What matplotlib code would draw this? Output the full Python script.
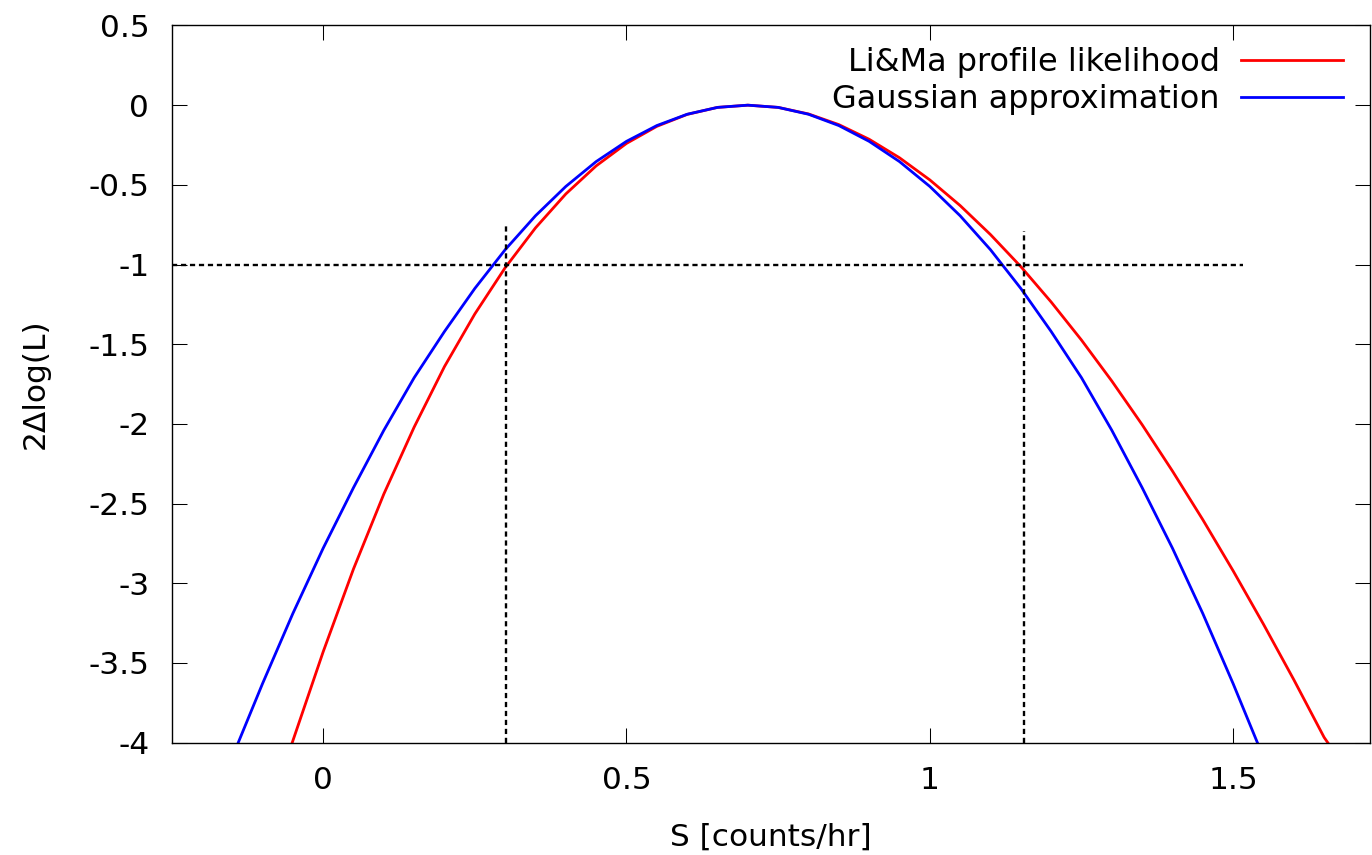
import matplotlib
matplotlib.use("Agg")
import matplotlib.pyplot as plt

plt.rcParams['font.family'] = ['DejaVu Sans']
plt.rcParams['axes.unicode_minus'] = False

# Li&Ma profile likelihood
s_lima = [-0.051, 0.00, 0.05, 0.10, 0.15, 0.20, 0.25, 0.30, 0.35, 0.40, 0.45,
          0.50, 0.55, 0.60, 0.65, 0.70, 0.75, 0.80, 0.85, 0.90, 0.95, 1.00,
          1.05, 1.10, 1.15, 1.20, 1.25, 1.30, 1.35, 1.40, 1.45, 1.50, 1.55,
          1.60, 1.65, 1.656]
l_lima = [-4.00, -3.43, -2.91, -2.44, -2.02, -1.64, -1.31, -1.02, -0.77, -0.557, -0.381,
          -0.240, -0.133, -0.058, -0.014, 0.0, -0.014, -0.055, -0.122, -0.214, -0.330, -0.469,
          -0.630, -0.812, -1.013, -1.235, -1.474, -1.731, -2.005, -2.296, -2.601, -2.922, -3.257,
          -3.605, -3.967, -4.00]

# Gaussian approximation
s_gaus = [-0.14, -0.10, -0.05, 0.00, 0.05, 0.10, 0.15, 0.20, 0.25, 0.30, 0.35,
          0.40, 0.45, 0.50, 0.55, 0.60, 0.65, 0.70, 0.75, 0.80, 0.85, 0.90,
          0.95, 1.00, 1.05, 1.10, 1.15, 1.20, 1.25, 1.30, 1.35, 1.40, 1.45,
          1.50, 1.54]
l_gaus = [-4.00, -3.63, -3.19, -2.78, -2.40, -2.04, -1.71, -1.42, -1.15, -0.907, -0.694,
          -0.510, -0.354, -0.227, -0.128, -0.057, -0.014, 0.0, -0.014, -0.057, -0.128, -0.227,
          -0.354, -0.510, -0.694, -0.907, -1.15, -1.42, -1.71, -2.04, -2.40, -2.78, -3.19,
          -3.63, -4.00]

# 1 sigma guide lines
hline_y = -1.0
hline_x = [-0.25, 1.517]
vline_lo = [0.301, -4.0, -0.75]
vline_hi = [1.155, -4.0, -0.79]

xticks = [0, 0.5, 1, 1.5]
xticklabels = ["0", "0.5", "1", "1.5"]
yticks = [0.5, 0, -0.5, -1, -1.5, -2, -2.5, -3, -3.5, -4]
yticklabels = ["0.5", "0", "-0.5", "-1", "-1.5", "-2", "-2.5", "-3", "-3.5", "-4"]

fs = 22.5

fig = plt.figure(figsize=(13.72, 8.55), dpi=100)
ax = fig.add_axes([0.125, 0.1314, 0.8735, 0.8388])

ax.plot(s_lima, l_lima, color='#ff0000', lw=2.0, label='Li&Ma profile likelihood')
ax.plot(s_gaus, l_gaus, color='#0000ff', lw=2.0, label='Gaussian approximation')

dash = (0, (2.2, 1.6))
ax.plot(hline_x, [hline_y, hline_y], color='black', lw=1.7, linestyle=dash)
ax.plot([vline_lo[0], vline_lo[0]], vline_lo[1:], color='black', lw=1.7, linestyle=dash)
ax.plot([vline_hi[0], vline_hi[0]], vline_hi[1:], color='black', lw=1.7, linestyle=dash)

ax.set_xlim(-0.25, 1.7255)
ax.set_ylim(-4, 0.5)
ax.set_xticks(xticks)
ax.set_xticklabels(xticklabels)
ax.set_yticks(yticks)
ax.set_yticklabels(yticklabels)
ax.tick_params(direction='in', length=10.8, width=0.75, top=True, right=True,
               labelsize=fs, color='black')
ax.tick_params(axis='x', pad=17)
ax.tick_params(axis='y', pad=16)
for sp in ax.spines.values():
    sp.set_linewidth(1.0)

ax.set_xlabel('S [counts/hr]', fontsize=fs, labelpad=20)
ax.set_ylabel('2\u0394log(L)', fontsize=fs, labelpad=28)

ax.legend(loc='upper right', bbox_to_anchor=(0.9775, 0.970), frameon=False,
          markerfirst=False, fontsize=23, handlelength=3.2, handletextpad=0.65,
          labelspacing=0.20, borderpad=0, borderaxespad=0)

fig.savefig('out.png', dpi=100)
